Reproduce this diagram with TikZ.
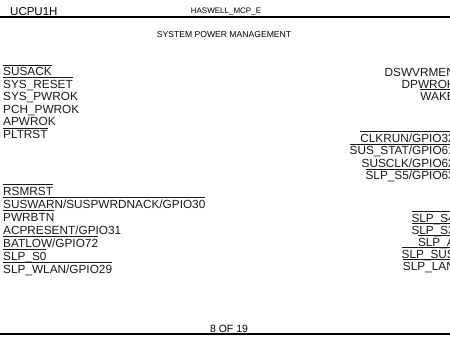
\documentclass[tikz,border=0pt]{standalone}
\usepackage{fontspec}
\setmainfont{Liberation Sans}
\usetikzlibrary{positioning}
% barra sobre sinal ativo-baixo
\newcommand\ovl[1]{\setbox0\hbox{#1}\rlap{\rule[\dimexpr\ht0+1.8pt\relax]{\wd0}{0.9pt}}\box0}

\begin{document}
\begin{tikzpicture}[x=1pt,y=-1pt,
  pinoE/.style={anchor=base west,inner sep=0pt,font=\fontsize{11.8}{12}\selectfont,text=black!90},
  pinoD/.style={anchor=base east,inner sep=0pt,font=\fontsize{11.8}{12}\selectfont,text=black!90},
  cabec/.style={inner sep=0pt,text=black},
  regua/.style={line width=1.3pt,black}]
\useasboundingbox (0,0) rectangle (450,338);
\clip (0,0) rectangle (450,338);
% cabecalho e rodape
\node[cabec,anchor=base west,font=\fontsize{11.5}{12}\selectfont] (ref) at (10,15) {UCPU1H};
\node[cabec,anchor=base,font=\fontsize{8}{8}\selectfont] (parte) at (226,13.5) {HASWELL\_MCP\_E};
\node[cabec,anchor=base,font=\fontsize{8.6}{9}\selectfont] (titulo) at (224,37) {SYSTEM POWER MANAGEMENT};
\node[cabec,anchor=base,font=\fontsize{10.5}{11}\selectfont] (pagina) at (229,332) {8 OF 19};
\coordinate (ts) at (0,17);
\coordinate (td) at (450,17);
\coordinate (bs) at (0,334);
\coordinate (bd) at (450,334);
\draw[regua] (ts) -- (td);
\draw[regua] (bs) -- (bd);
% pinos do lado esquerdo
\foreach \nome [count=\i] in {{\ovl{SUSACK}},{\ovl{SYS\_RESET}},{SYS\_PWROK},{PCH\_PWROK},{APWROK},{\ovl{PLTRST}}}
  \node[pinoE] (ea\i) at (3,{75.5+12.6*(\i-1)}) {\nome};
\foreach \nome [count=\i] in {{\ovl{RSMRST}},{\ovl{SUSWARN/SUSPWRDNACK/GPIO30}},{\ovl{PWRBTN}},{ACPRESENT/GPIO31},{\ovl{BATLOW/GPIO72}},{\ovl{SLP\_S0}},{\ovl{SLP\_WLAN/GPIO29}}}
  \node[pinoE] (eb\i) at (3,{195.3+13*(\i-1)}) {\nome};
% pinos do lado direito
\foreach \nome [count=\i] in {{DSWVRMEN},{DPWROK},{\ovl{WAKE}}}
  \node[pinoD] (da\i) at (455,{76.3+12*(\i-1)}) {\nome};
\foreach \nome [count=\i] in {{\ovl{CLKRUN/GPIO32}},{\ovl{SUS\_STAT/GPIO61}},{SUSCLK/GPIO62},{\ovl{SLP\_S5/GPIO63}}}
  \node[pinoD] (db\i) at (455,{142.3+12.5*(\i-1)}) {\nome};
\foreach \nome [count=\i] in {{\ovl{SLP\_S4}},{\ovl{SLP\_S3}},{\ovl{SLP\_A}},{\ovl{SLP\_SUS}},{\ovl{SLP\_LAN}}}
  \node[pinoD] (dc\i) at (455,{222.3+12*(\i-1)}) {\nome};
\end{tikzpicture}
\end{document}
